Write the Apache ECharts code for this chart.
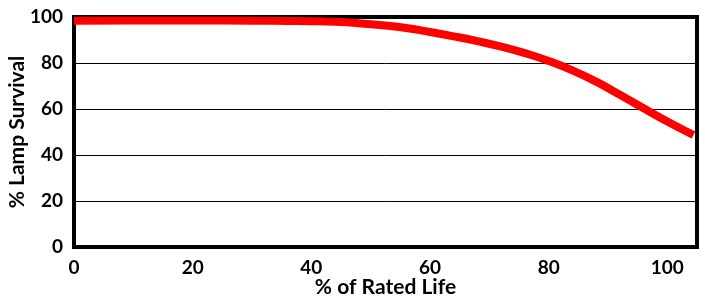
<!DOCTYPE html>
<html>
<head>
<meta charset="utf-8">
<script src="https://cdn.jsdelivr.net/npm/echarts@6/dist/echarts.min.js"></script>
<style>
  html, body { margin: 0; padding: 0; background: #fff; }
  #chart { width: 705px; height: 300px; }
</style>
</head>
<body>
<div id="chart"></div>
<script>
// % of rated life vs % lamp survival
const ratedLife = [0, 10, 20, 30, 36, 40, 44, 48, 52, 56, 60, 64, 68, 72, 76, 80, 84, 88, 92, 96, 100, 104.4]
const survival = [98.4, 98.5, 98.5, 98.4, 98.3, 98.2, 97.9, 97.3, 96.4, 95.2, 93.5, 91.6, 89.5, 87.1, 84.3, 80.9, 76.8, 71.9, 66.2, 60.3, 54.6, 48.7]

const font = 'Lato, "Open Sans", sans-serif'

const myChart = echarts.init(document.querySelector('#chart'))
const option = {
  animation: false,
  grid: {
    left: 74,
    right: 8,
    top: 17,
    bottom: 53,
    outerBoundsMode: 'none',
    show: true,
    borderColor: '#000',
    borderWidth: 4
  },
  xAxis: {
    type: 'value',
    min: 0,
    max: 105,
    interval: 20,
    name: '% of Rated Life',
    nameLocation: 'middle',
    nameGap: 30,
    nameMoveOverlap: false,
    nameTextStyle: { color: '#000', fontSize: 21, fontWeight: 'bold', fontFamily: font },
    axisLine: { show: false },
    axisTick: { show: false },
    splitLine: { show: false },
    axisLabel: {
      showMaxLabel: false,
      margin: 11,
      color: '#000',
      fontSize: 19,
      fontWeight: 'bold',
      fontFamily: font
    }
  },
  yAxis: {
    type: 'value',
    min: 0,
    max: 100,
    interval: 20,
    name: '% Lamp Survival',
    nameLocation: 'middle',
    nameGap: 46,
    nameMoveOverlap: false,
    nameTextStyle: { color: '#000', fontSize: 21, fontWeight: 'bold', fontFamily: font },
    axisLine: { show: false },
    axisTick: { show: false },
    splitLine: { lineStyle: { color: '#000', width: 1 } },
    axisLabel: {
      margin: 11,
      color: '#000',
      fontSize: 19,
      fontWeight: 'bold',
      fontFamily: font
    }
  },
  series: [
    {
      type: 'line',
      data: ratedLife.map((x, i) => [x, survival[i]]),
      smooth: 0.5,
      showSymbol: false,
      lineStyle: { color: '#ff0000', width: 8 }
    }
  ]
}
myChart.setOption(option)
</script>
</body>
</html>
